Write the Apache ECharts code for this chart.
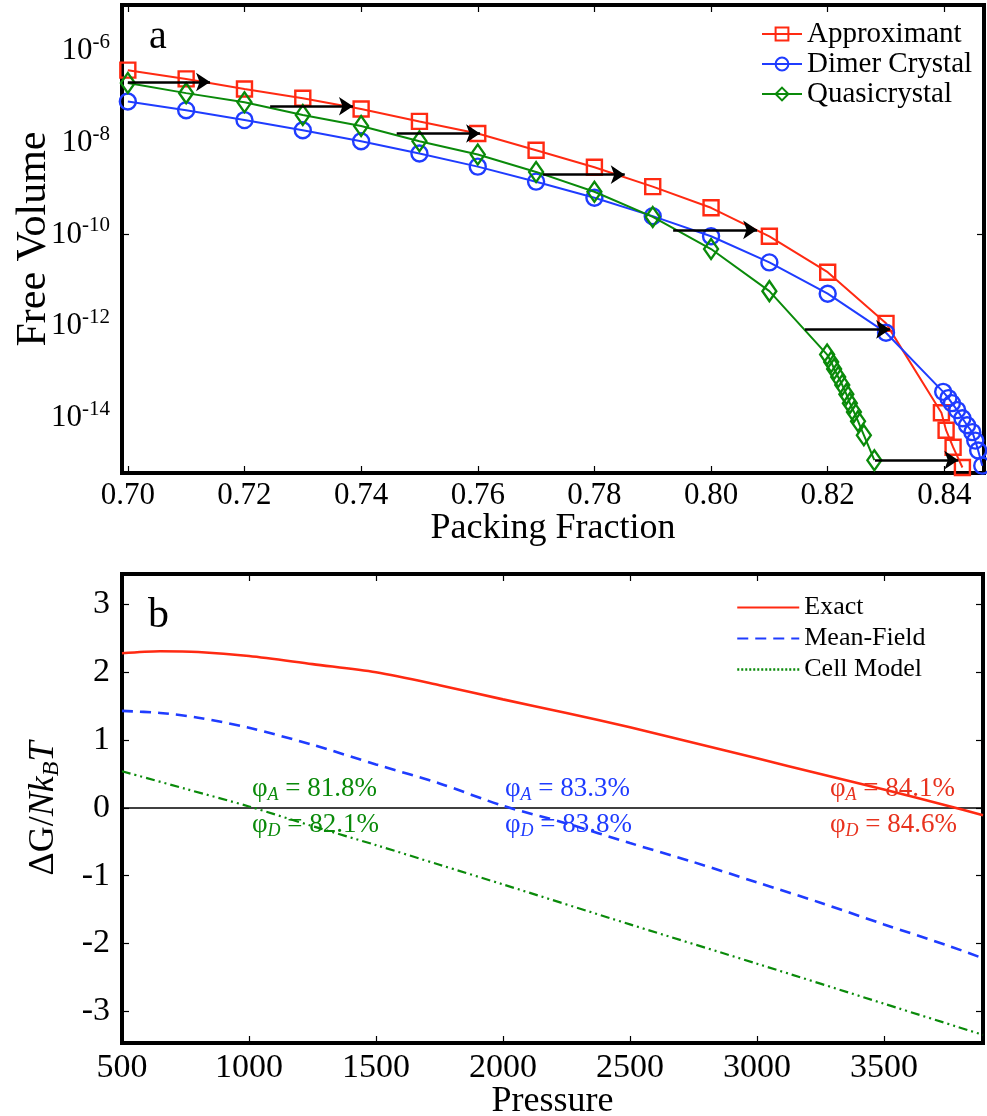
<!DOCTYPE html>
<html><head><meta charset="utf-8">
<script src="https://cdn.jsdelivr.net/npm/echarts@6/dist/echarts.min.js"></script>
<style>html,body{margin:0;padding:0;background:#fff}#c{width:987px;height:1116px}</style>
</head><body><div id="c"></div>
<script>
// ---------- Panel a data ----------
const approxPhi = [0.70,0.71,0.72,0.73,0.74,0.75,0.76,0.77,0.78,0.79,0.80,0.81,0.82,0.83,0.8395,0.8403,0.8415,0.8431];
const approxVol = [3.8e-7,2.45e-7,1.48e-7,9.3e-8,5.4e-8,2.9e-8,1.58e-8,6.8e-9,2.9e-9,1.1e-9,3.8e-10,9.1e-11,1.5e-11,1.15e-12,1.3e-14,5.4e-15,2.3e-15,8.3e-16];
const dimerPhi = [0.70,0.71,0.72,0.73,0.74,0.75,0.76,0.77,0.78,0.79,0.80,0.81,0.82,0.83,0.8398,0.8407,0.8413,0.8422,0.8431,0.8439,0.8448,0.8453,0.8458,0.8465];
const dimerVol = [7.9e-8,5.1e-8,3.1e-8,1.86e-8,1.07e-8,5.8e-9,3.0e-9,1.41e-9,6.3e-10,2.5e-10,9.1e-11,2.45e-11,5.1e-12,7.2e-13,3.7e-14,2.7e-14,2.1e-14,1.48e-14,9.8e-15,6.9e-15,4.9e-15,3.2e-15,1.95e-15,9.1e-16];
const quasiPhi = [0.70,0.71,0.72,0.73,0.74,0.75,0.76,0.77,0.78,0.79,0.80,0.81,0.8199,0.8206,0.8211,0.8218,0.8225,0.8232,0.8238,0.8245,0.8252,0.8262,0.8280];
const quasiVol = [2.0e-7,1.2e-7,7.6e-8,4.0e-8,2.3e-8,1.07e-8,5.5e-9,2.3e-9,8.5e-10,2.4e-10,4.8e-11,5.8e-12,2.4e-13,1.66e-13,1.17e-13,7.8e-14,5.2e-14,3.3e-14,2.1e-14,1.35e-14,8.5e-15,4.2e-15,1.2e-15];
const arrowStart = [0.700,0.7244,0.7461,0.7712,0.7935,0.8161,0.8281];
const arrowEnd   = [0.7141,0.7386,0.7604,0.7852,0.8079,0.8307,0.8424];
const arrowVol   = [2.1e-7,6.2e-8,1.58e-8,2.0e-9,1.26e-10,8.5e-13,1.2e-15];
const seriesNamesA = ['Approximant','Dimer Crystal','Quasicrystal'];
const volTickLabels = [1e-14,1e-12,1e-10,1e-8,1e-6];
const volTickMarks = [1e-10];

// ---------- Panel b data ----------
const exactP = [500,650,800,1000,1250,1500,1750,2000,2250,2500,2750,3000,3250,3500,3750,3890];
const exactG = [2.28,2.31,2.30,2.24,2.12,2.00,1.81,1.60,1.40,1.19,0.96,0.73,0.50,0.27,0.03,-0.11];
const mfP = [500,650,800,1000,1250,1500,1750,2000,2250,2500,2750,3000,3250,3500,3750,3890];
const mfG = [1.43,1.40,1.33,1.18,0.93,0.64,0.36,0.03,-0.23,-0.52,-0.80,-1.10,-1.40,-1.72,-2.03,-2.22];
const cellP = [500,750,1000,1250,1500,1750,2000,2500,3000,3500,3890];
const cellG = [0.54,0.28,0.02,-0.27,-0.55,-0.84,-1.13,-1.72,-2.30,-2.89,-3.35];
const seriesNamesB = ['Exact','Mean-Field','Cell Model'];
const annotA = ['81.8%','83.3%','84.1%'];
const annotD = ['82.1%','83.8%','84.6%'];

const FONT = '"Liberation Serif","Times New Roman",serif';
const RED = '#ff2a12', BLUE = '#1f3cff', GREEN = '#0a8a0a';
const pairs = (xs, ys) => xs.map((x, i) => [x, ys[i]]);

const chart = echarts.init(document.getElementById('c'));

const tickStyle = {show:true, inside:true, length:7, lineStyle:{color:'#000', width:1.2}};
const noLine = {show:false, onZero:false};
const volFmt = v => { const r = Math.round(Math.log10(v)); return '{b|10}{s|' + r + '}'; };

const option = {
  animation:false,
  textStyle:{fontFamily:FONT},
  grid:[
    {left:122, right:3, top:5, bottom:643, show:true, borderColor:'#000', borderWidth:4,
     backgroundColor:'transparent', outerBoundsMode:'none', containLabel:false},
    {left:122, right:4, top:574, bottom:73, show:true, borderColor:'#000', borderWidth:4,
     backgroundColor:'transparent', outerBoundsMode:'none', containLabel:false}
  ],
  xAxis:[
    {gridIndex:0, type:'value', min:0.699, max:0.8468, splitNumber:7,
     axisLine:noLine, axisTick:tickStyle, splitLine:{show:false},
     axisLabel:{fontSize:31, color:'#000', margin:7, fontFamily:FONT, showMinLabel:false, showMaxLabel:false,
       formatter:v => { const k = Math.round(v/0.02); return Math.abs(v-k*0.02) < 1e-6 ? v.toFixed(2) : ''; }},
     name:'Packing Fraction', nameLocation:'middle', nameGap:38, nameMoveOverlap:false,
     nameTextStyle:{fontSize:36, color:'#000', fontFamily:FONT}},
    {gridIndex:0, type:'value', position:'top', min:0.699, max:0.8468, splitNumber:7,
     axisLine:noLine, axisTick:tickStyle, splitLine:{show:false}, axisLabel:{show:false}},
    {gridIndex:1, type:'value', min:500, max:3890, splitNumber:7,
     axisLine:noLine, axisTick:tickStyle, splitLine:{show:false},
     axisLabel:{fontSize:34, color:'#000', margin:8, fontFamily:FONT, showMaxLabel:false,
       formatter:v => (Math.abs(v % 500) < 1e-6 ? String(v) : '')},
     name:'Pressure', nameLocation:'middle', nameGap:41, nameMoveOverlap:false,
     nameTextStyle:{fontSize:36, color:'#000', fontFamily:FONT}},
    {gridIndex:1, type:'value', position:'top', min:500, max:3890, splitNumber:7,
     axisLine:noLine, axisTick:tickStyle, splitLine:{show:false}, axisLabel:{show:false}}
  ],
  yAxis:[
    {gridIndex:0, type:'log', logBase:10, min:6.3e-16, max:1e-5,
     axisLine:noLine, splitLine:{show:false},
     axisTick:{show:true, inside:true, length:7, lineStyle:{color:'#000', width:1.2}, customValues:volTickMarks},
     axisLabel:{margin:12, color:'#000', customValues:volTickLabels, formatter:volFmt,
       rich:{b:{fontSize:31, lineHeight:38, fontFamily:FONT, color:'#000'},
             s:{fontSize:21, lineHeight:22, verticalAlign:'top', fontFamily:FONT, color:'#000'}}},
     name:'Free Volume', nameLocation:'middle', nameGap:67, nameMoveOverlap:false,
     nameTextStyle:{fontSize:42, color:'#000', fontFamily:FONT}},
    {gridIndex:1, type:'value', min:-3.47, max:3.45, splitNumber:7,
     axisLine:noLine, axisTick:tickStyle, splitLine:{show:false},
     axisLabel:{fontSize:34, color:'#000', margin:12, fontFamily:FONT, showMinLabel:false, showMaxLabel:false,
       formatter:v => (Math.abs(v - Math.round(v)) < 1e-6 ? String(Math.round(v)) : '')},
     name:'{n|ΔG/}{i|Nk}{s|B}{i|T}', nameLocation:'middle', nameGap:58, nameMoveOverlap:false,
     nameTextStyle:{color:'#000', rich:{
       n:{fontSize:36, lineHeight:40, fontFamily:FONT, color:'#000'},
       i:{fontSize:36, lineHeight:40, fontFamily:FONT, fontStyle:'italic', color:'#000'},
       s:{fontSize:24, lineHeight:18, verticalAlign:'bottom', fontFamily:FONT, fontStyle:'italic', color:'#000'}}}},
    {gridIndex:1, type:'value', position:'right', min:-3.47, max:3.45, splitNumber:7,
     axisLine:noLine, axisTick:tickStyle, splitLine:{show:false}, axisLabel:{show:false}},
    {gridIndex:0, type:'log', logBase:10, position:'right', min:6.3e-16, max:1e-5,
     axisLine:noLine, splitLine:{show:false}, axisLabel:{show:false},
     axisTick:{show:true, inside:true, length:7, lineStyle:{color:'#000', width:1.2}, customValues:volTickMarks}}
  ],
  legend:[
    {data:seriesNamesA, orient:'vertical', left:756, top:14, itemWidth:40, itemHeight:16,
     itemGap:0, itemTextGap:6, textStyle:{fontSize:29, lineHeight:30, color:'#000', fontFamily:FONT}},
    {data:[{name:seriesNamesB[0]},{name:seriesNamesB[1]},
           {name:seriesNamesB[2], lineStyle:{type:[2,2], width:2.5, color:GREEN}}],
     orient:'vertical', left:731, top:587, itemWidth:62, itemHeight:14,
     itemStyle:{opacity:0},
     itemGap:0, itemTextGap:9, textStyle:{fontSize:26, lineHeight:31, color:'#000', fontFamily:FONT}}
  ],
  series:[
    {name:seriesNamesA[0], type:'line', xAxisIndex:0, yAxisIndex:0, data:pairs(approxPhi, approxVol),
     symbol:'rect', symbolSize:15, lineStyle:{color:RED, width:2},
     itemStyle:{color:'rgba(0,0,0,0)', borderColor:RED, borderWidth:2.4}, color:RED, z:3},
    {name:seriesNamesA[1], type:'line', xAxisIndex:0, yAxisIndex:0, data:pairs(dimerPhi, dimerVol),
     symbol:'circle', symbolSize:16, lineStyle:{color:BLUE, width:2},
     itemStyle:{color:'rgba(0,0,0,0)', borderColor:BLUE, borderWidth:2.4}, color:BLUE, z:4},
    {name:seriesNamesA[2], type:'line', xAxisIndex:0, yAxisIndex:0, data:pairs(quasiPhi, quasiVol),
     symbol:'diamond', symbolSize:[14,20], lineStyle:{color:GREEN, width:2},
     itemStyle:{color:'rgba(0,0,0,0)', borderColor:GREEN, borderWidth:2.4}, color:GREEN, z:5},
    {type:'lines', coordinateSystem:'cartesian2d', xAxisIndex:0, yAxisIndex:0, z:6,
     symbol:['none','arrow'], symbolSize:[0,14],
     lineStyle:{color:'#000', width:2.5, opacity:1},
     data:arrowStart.map((s, i) => ({coords:[[s, arrowVol[i]], [arrowEnd[i], arrowVol[i]]]}))},
    {name:seriesNamesB[0], type:'line', xAxisIndex:2, yAxisIndex:1, data:pairs(exactP, exactG), smooth:0.3,
     showSymbol:false, symbol:'none', lineStyle:{color:RED, width:2.6}, color:RED, z:4,
     markLine:{silent:true, symbol:'none', label:{show:false}, z:2,
       lineStyle:{color:'#000', width:1.5, type:'solid'}, data:[{yAxis:0}]}},
    {name:seriesNamesB[1], type:'line', xAxisIndex:2, yAxisIndex:1, data:pairs(mfP, mfG), smooth:0.3,
     showSymbol:false, symbol:'none', lineStyle:{color:BLUE, width:2.6, type:[11,7]}, color:BLUE, z:3},
    {name:seriesNamesB[2], type:'line', xAxisIndex:2, yAxisIndex:1, data:pairs(cellP, cellG), smooth:0.3,
     showSymbol:false, symbol:'none', lineStyle:{color:GREEN, width:2.2, type:[9,4,2,4,2,4]}, color:GREEN, z:3}
  ],
  graphic:[]
};

// decorations: panel letters and phase-point annotations
const richAnn = (col) => ({
  p:{fontSize:27, lineHeight:30, fontFamily:FONT, fill:col},
  s:{fontSize:18, lineHeight:14, verticalAlign:'bottom', fontStyle:'italic', fontFamily:FONT, fill:col}
});
const annX = [252, 505, 830];
const annCol = [GREEN, BLUE, '#e8321e'];
option.graphic.push(
  {type:'text', x:149, y:37, style:{text:'a', fontSize:40, fontFamily:FONT, fill:'#000', verticalAlign:'middle'}},
  {type:'text', x:148, y:616, style:{text:'b', fontSize:42, fontFamily:FONT, fill:'#000', verticalAlign:'middle'}}
);
for (let i = 0; i < 3; i++) {
  option.graphic.push({type:'text', x:annX[i], y:789, z:10, style:{text:'{p|φ}{s|A}{p| = ' + annotA[i] + '}', rich:richAnn(annCol[i]), verticalAlign:'middle'}});
  option.graphic.push({type:'text', x:annX[i], y:825, z:10, style:{text:'{p|φ}{s|D}{p| = ' + annotD[i] + '}', rich:richAnn(annCol[i]), verticalAlign:'middle'}});
}
chart.setOption(option);
</script>
</body></html>
